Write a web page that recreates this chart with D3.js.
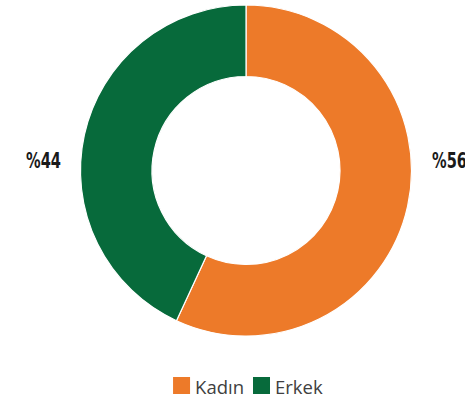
<!DOCTYPE html>
<html>
<head>
<meta charset="utf-8">
<script src="https://cdn.jsdelivr.net/npm/d3@7"></script>
<style>
  body { margin: 0; background: #fff; }
  svg { display: block; }
</style>
</head>
<body>
<svg id="chart" width="465" height="403"></svg>
<script>
// data
const categories = ["Kadın", "Erkek"];
const values = [56.9, 43.1];
const pctLabels = ["%56", "%44"];
const colors = ["#ED7A29", "#076A3B"];

const width = 465, height = 403;
const cx = 246, cy = 170.5;
const outerR = 165.5, innerR = 94;

const svg = d3.select("#chart");

const pie = d3.pie().sort(null).value(d => d.value);
const arc = d3.arc().innerRadius(innerR).outerRadius(outerR);

const data = categories.map((c, i) => ({ name: c, value: values[i], color: colors[i], label: pctLabels[i] }));
const arcs = pie(data);

const g = svg.append("g").attr("transform", `translate(${cx},${cy})`);

g.selectAll("path")
  .data(arcs)
  .enter().append("path")
  .attr("d", arc)
  .attr("fill", d => d.data.color)
  .attr("stroke", "#fff")
  .attr("stroke-width", 1.2);

// percentage labels, to the side of each slice (condensed look)
g.selectAll("text.pct")
  .data(arcs)
  .enter().append("text")
  .attr("class", "pct")
  .attr("x", d => {
    const mid = (d.startAngle + d.endAngle) / 2;
    return Math.sin(mid) > 0 ? outerR + 20.5 : -(outerR + 19.5);
  })
  .attr("y", -3)
  .attr("text-anchor", d => Math.sin((d.startAngle + d.endAngle) / 2) > 0 ? "start" : "end")
  .attr("textLength", 35)
  .attr("lengthAdjust", "spacingAndGlyphs")
  .style("font-family", "'DejaVu Sans Condensed', 'DejaVu Sans', sans-serif")
  .style("font-stretch", "condensed")
  .style("font-weight", "bold")
  .style("font-size", "21px")
  .attr("fill", "#1a1a1a")
  .text(d => d.data.label);

// legend
const legend = svg.append("g").attr("class", "legend");
const sw = 17, gap = 5, itemGap = 9;
const items = legend.selectAll("g")
  .data(data)
  .enter().append("g");

items.append("rect")
  .attr("width", sw)
  .attr("height", sw)
  .attr("fill", d => d.color);

items.append("text")
  .attr("x", sw + gap)
  .attr("y", sw - 0.5)
  .style("font-family", "'Open Sans', sans-serif")
  .style("font-size", "18.5px")
  .attr("fill", "#404040")
  .text(d => d.name);

const widths = [];
items.each(function() {
  widths.push(this.getBBox().width);
});
const total = d3.sum(widths) + itemGap * (widths.length - 1);
const xoff = cx + 2 - total / 2;
items.attr("transform", (d, i) => {
  const x = xoff + d3.sum(widths.slice(0, i)) + itemGap * i;
  return `translate(${x},377)`;
});
</script>
</body>
</html>
